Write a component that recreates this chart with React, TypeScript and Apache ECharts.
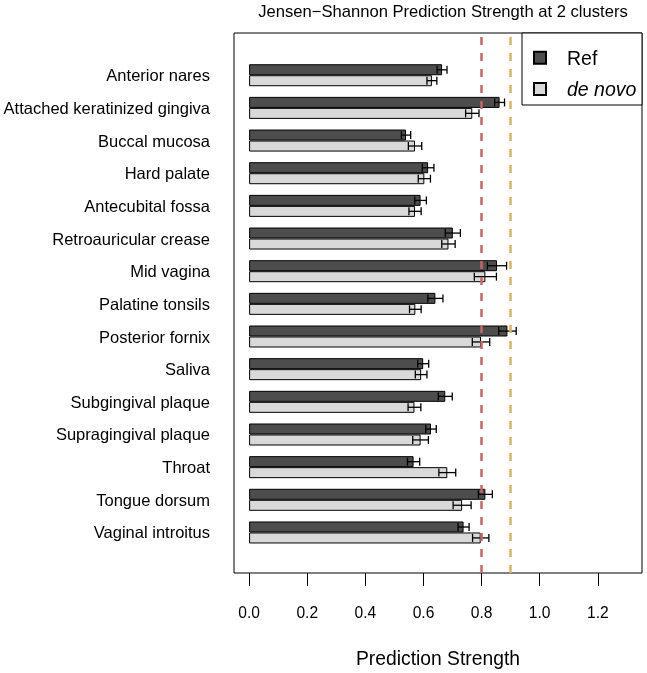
import React, { useEffect, useRef } from "react";
import * as echarts from "echarts";

const categories = [
  "Anterior nares",
  "Attached keratinized gingiva",
  "Buccal mucosa",
  "Hard palate",
  "Antecubital fossa",
  "Retroauricular crease",
  "Mid vagina",
  "Palatine tonsils",
  "Posterior fornix",
  "Saliva",
  "Subgingival plaque",
  "Supragingival plaque",
  "Throat",
  "Tongue dorsum",
  "Vaginal introitus",
];
const refValues = [0.664, 0.862, 0.540, 0.616, 0.590, 0.701, 0.853, 0.641, 0.889, 0.599, 0.675, 0.626, 0.566, 0.813, 0.738];
const refErrors = [0.017, 0.017, 0.016, 0.020, 0.020, 0.026, 0.033, 0.026, 0.030, 0.019, 0.024, 0.018, 0.021, 0.024, 0.019];
const deNovoValues = [0.629, 0.768, 0.571, 0.603, 0.571, 0.686, 0.813, 0.572, 0.798, 0.592, 0.569, 0.590, 0.682, 0.733, 0.797];
const deNovoErrors = [0.017, 0.023, 0.023, 0.021, 0.021, 0.023, 0.038, 0.020, 0.030, 0.020, 0.022, 0.027, 0.029, 0.031, 0.028];
const tickValues = [0, 0.2, 0.4, 0.6, 0.8, 1.0, 1.2];
const thresholds = [0.8, 0.9];
const xMin = -0.052;
const xMax = 1.352;

const FONT = "'Liberation Sans', Arial, Helvetica, sans-serif";

function errorRender(sign: number) {
  return (params: any, api: any) => {
    const lo = api.coord([api.value(0), api.value(2)]);
    const hi = api.coord([api.value(1), api.value(2)]);
    const band = api.size([0, 1])[1];
    const y = lo[1] + (sign * band) / 6;
    const cap = 4;
    const style = { stroke: "#000", lineWidth: 1.3 };
    return {
      type: "group",
      children: [
        { type: "line", shape: { x1: lo[0], y1: y, x2: hi[0], y2: y }, style },
        { type: "line", shape: { x1: lo[0], y1: y - cap, x2: lo[0], y2: y + cap }, style },
        { type: "line", shape: { x1: hi[0], y1: y - cap, x2: hi[0], y2: y + cap }, style },
      ],
    };
  };
}

export default function App() {
  const ref = useRef<HTMLDivElement>(null);
  useEffect(() => {
    if (!ref.current) return;
    const chart = echarts.init(ref.current, null, { renderer: "svg" });
    const option: any = {
      animation: false,
      textStyle: { fontFamily: FONT },
      grid: [
        { left: 234, right: 5, top: 58.9, height: 489.9 },
        { left: 234, right: 5, top: 33, bottom: 100, show: true, borderColor: "#000", borderWidth: 1, backgroundColor: "transparent" },
      ],
      xAxis: [
        { type: "value", gridIndex: 0, min: xMin, max: xMax, show: false },
        {
          type: "value",
          gridIndex: 1,
          min: xMin,
          max: xMax,
          splitLine: { show: false },
          axisLine: { show: false },
          axisTick: { show: true, length: 13, customValues: tickValues, lineStyle: { color: "#000", width: 1 } },
          axisLabel: {
            customValues: tickValues,
            formatter: (v: number) => v.toFixed(1),
            fontSize: 15.6,
            color: "#000",
            margin: 31,
            fontFamily: FONT,
          },
        },
      ],
      yAxis: [
        {
          type: "category",
          gridIndex: 0,
          data: categories,
          inverse: true,
          axisLine: { show: false },
          axisTick: { show: false },
          axisLabel: { fontSize: 16.5, color: "#000", margin: 24, fontFamily: FONT },
        },
        { type: "value", gridIndex: 1, min: 0, max: 1, show: false },
      ],
      legend: {
        data: ["Ref", "de novo"],
        orient: "vertical",
        left: 528,
        top: 41.7,
        z: 6,
        itemWidth: 12,
        itemHeight: 12,
        itemGap: 9.3,
        icon: "rect",
        textStyle: {
          fontSize: 19.5,
          lineHeight: 22,
          color: "#000",
          fontFamily: FONT,
          padding: [0, 0, 0, 16],
          rich: { i: { fontStyle: "italic", fontSize: 19.5, lineHeight: 22, fontFamily: FONT, color: "#000" } },
        },
        formatter: (name: string) => (name === "de novo" ? "{i|de novo}" : name),
      },
      graphic: [
        {
          type: "rect",
          z: 3,
          shape: { x: 522, y: 33, width: 120, height: 72 },
          style: { fill: "#fff", stroke: "#000", lineWidth: 1 },
        },
        {
          type: "text",
          x: 443,
          y: 11,
          style: {
            text: "Jensen\u2212Shannon Prediction Strength at 2 clusters",
            fontSize: 16.6,
            fontFamily: FONT,
            fill: "#000",
            textAlign: "center",
            textVerticalAlign: "middle",
          },
        },
        {
          type: "text",
          x: 438,
          y: 658,
          style: {
            text: "Prediction Strength",
            fontSize: 19.3,
            fontFamily: FONT,
            fill: "#000",
            textAlign: "center",
            textVerticalAlign: "middle",
          },
        },
      ],
      series: [
        {
          name: "Ref",
          type: "bar",
          xAxisIndex: 0,
          yAxisIndex: 0,
          data: refValues,
          barWidth: 11,
          barGap: "0%",
          itemStyle: { color: "#4d4d4d", borderColor: "#000", borderWidth: 1 },
        },
        {
          name: "de novo",
          type: "bar",
          xAxisIndex: 0,
          yAxisIndex: 0,
          data: deNovoValues,
          barWidth: 11,
          barGap: "0%",
          itemStyle: { color: "#d9d9d9", borderColor: "#000", borderWidth: 1 },
        },
        {
          name: "Ref error",
          type: "custom",
          xAxisIndex: 0,
          yAxisIndex: 0,
          z: 4,
          encode: { x: [0, 1], y: 2 },
          data: categories.map((_, i) => [refValues[i] - refErrors[i], refValues[i] + refErrors[i], i]),
          renderItem: errorRender(-1),
        },
        {
          name: "de novo error",
          type: "custom",
          xAxisIndex: 0,
          yAxisIndex: 0,
          z: 4,
          encode: { x: [0, 1], y: 2 },
          data: categories.map((_, i) => [deNovoValues[i] - deNovoErrors[i], deNovoValues[i] + deNovoErrors[i], i]),
          renderItem: errorRender(1),
        },
        {
          name: "thresholds",
          type: "line",
          xAxisIndex: 1,
          yAxisIndex: 1,
          data: [],
          z: 3,
          markLine: {
            silent: true,
            symbol: "none",
            label: { show: false },
            lineStyle: { type: [8, 8], width: 2.5 },
            data: [
              { xAxis: thresholds[0], lineStyle: { color: "#cc6466", type: [8, 8], width: 2.5 } },
              { xAxis: thresholds[1], lineStyle: { color: "#e2b256", type: [8, 8], width: 2.5 } },
            ],
          },
        },
      ],
    };
    chart.setOption(option);
    return () => chart.dispose();
  }, []);
  return <div ref={ref} style={{ position: "fixed", left: 0, top: 0, width: 647, height: 673 }} />;
}
